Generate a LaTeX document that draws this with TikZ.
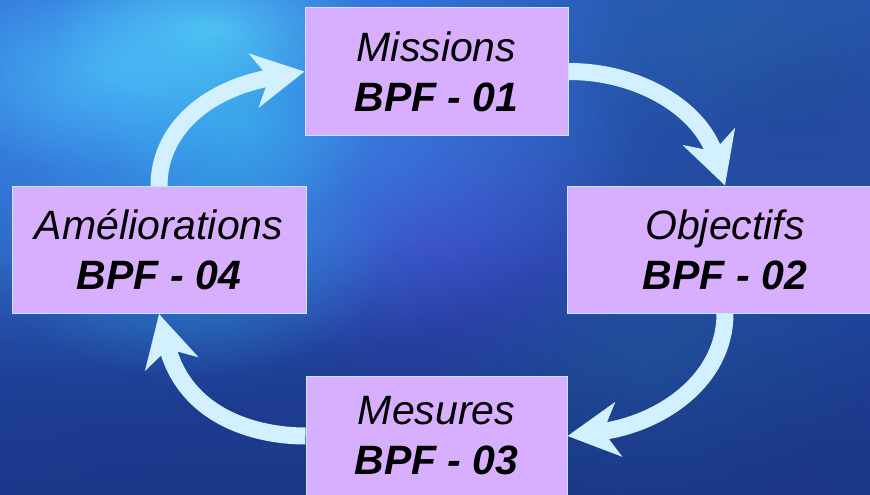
\documentclass[tikz,border=0pt]{standalone}
\usepackage{fontspec}
\setmainfont{Liberation Sans}
\usetikzlibrary{arrows.meta,fadings,calc}
\definecolor{boxfill}{HTML}{D8AEFF}
\definecolor{boxline}{HTML}{C8E6FF}
\definecolor{arrowc}{HTML}{D2F0FF}
\definecolor{bgtop}{HTML}{2E62C8}
\definecolor{bgbot}{HTML}{1C3A90}
\tikzfading[name=spotfade, inner color=transparent!0, outer color=transparent!100]
\pgfdeclarelayer{back}
\pgfdeclarelayer{mid}
\pgfsetlayers{back,mid,main}
\begin{document}
\begin{tikzpicture}[x=1pt,y=-1pt,
  box/.style={draw=boxline, line width=1pt, fill=boxfill, inner sep=0pt, align=center,
    font=\fontsize{41}{50}\selectfont\itshape},
  cyc/.style={draw=arrowc, line width=17pt, -{Stealth[length=51pt,width=54pt,inset=15pt]}},
  spot/.style={path fading=spotfade}]
\useasboundingbox (0,0) rectangle (870,495);
% boxes
\node[box, minimum width=263pt, minimum height=127pt] (m) at (436.5,71.5) {Missions\\\textbf{BPF - 01}};
\node[box, minimum width=316pt, minimum height=127pt] (o) at (725,249.5) {Objectifs\\\textbf{BPF - 02}};
\node[box, minimum width=261pt, minimum height=120pt] (b) at (436.5,436) {Mesures\\\textbf{BPF - 03}};
\node[box, minimum width=294pt, minimum height=127pt] (a) at (159,250) {Améliorations\\\textbf{BPF - 04}};
% arrows
\begin{pgfonlayer}{mid}
\draw[cyc] (a.north) .. controls ($(a.north)+(0,-55)$) and ($(m.west)+(-100,18)$) .. (m.west);
\draw[cyc] (m.east) .. controls ($(m.east)+(72,0)$) and ($(o.north)+(-25,-76)$) .. (o.north);
\draw[cyc] (o.south) .. controls ($(o.south)+(0,67)$) and ($(b.east)+(93,-12)$) .. (b.east);
\draw[cyc] (b.west) .. controls ($(b.west)+(-51,0)$) and ($(a.south)+(26,102)$) .. (a.south);
\end{pgfonlayer}
% background
\begin{pgfonlayer}{back}
\begin{scope}
\clip (0,0) rectangle (870,495);
\shade[top color=bgtop, bottom color=bgbot] (0,0) rectangle (870,495);
\fill[color={rgb,255:red,31;green,68;blue,144}, spot, fill opacity=.7] (800,90) ellipse (400 and 320);
\fill[color={rgb,255:red,42;green,106;blue,168}, spot, fill opacity=.4] (720,30) ellipse (200 and 110);
\fill[color={rgb,255:red,40;green,116;blue,168}, spot, fill opacity=.45] (650,370) ellipse (220 and 150);
\fill[color={rgb,255:red,58;green,130;blue,220}, spot, fill opacity=.5] (380,170) ellipse (260 and 170);
\fill[color={rgb,255:red,70;green,56;blue,196}, spot, fill opacity=.65] (430,240) ellipse (220 and 170);
\fill[color={rgb,255:red,60;green,144;blue,240}, spot, fill opacity=.95] (130,90) ellipse (520 and 300);
\fill[color={rgb,255:red,27;green,56;blue,134}, spot, fill opacity=.7] (300,500) ellipse (800 and 260);
\fill[color={rgb,255:red,27;green,52;blue,126}, spot, fill opacity=.5] (800,470) ellipse (360 and 200);
\fill[color={rgb,255:red,88;green,218;blue,250}, spot, fill opacity=.7] (210,30) ellipse (160 and 80);
\fill[color={rgb,255:red,80;green,208;blue,248}, spot, fill opacity=.55] (110,75) ellipse (180 and 100);
\fill[color={rgb,255:red,64;green,200;blue,244}, spot, fill opacity=.5] (240,125) ellipse (140 and 100);
\fill[color={rgb,255:red,54;green,180;blue,238}, spot, fill opacity=.45] (190,250) ellipse (200 and 130);
\end{scope}
\end{pgfonlayer}
\end{tikzpicture}
\end{document}
